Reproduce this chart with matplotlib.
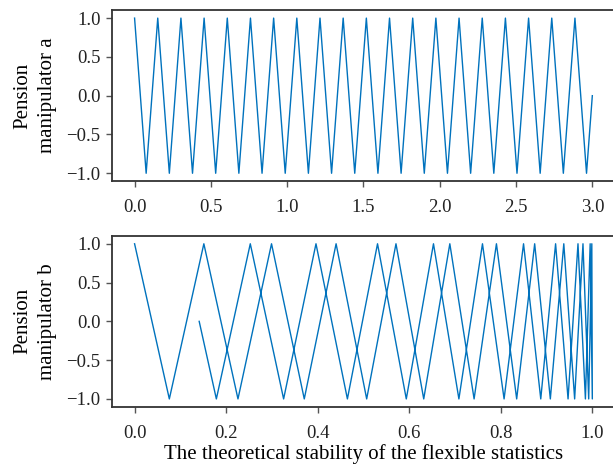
import matplotlib
matplotlib.use("Agg")
import matplotlib.pyplot as plt

# sample positions of the top panel
x_top = [0.0, 0.0759, 0.1519, 0.2278, 0.3038, 0.3797, 0.4557, 0.5316, 0.6076, 0.6835,
         0.7595, 0.8354, 0.9114, 0.9873, 1.0633, 1.1392, 1.2152, 1.2911, 1.3671, 1.4430,
         1.5190, 1.5949, 1.6709, 1.7468, 1.8228, 1.8987, 1.9747, 2.0506, 2.1266, 2.2025,
         2.2785, 2.3544, 2.4304, 2.5063, 2.5823, 2.6582, 2.7342, 2.8101, 2.8861, 2.9620,
         3.0]

# same samples on the bottom panel's axis
x_bottom = [0.0, 0.0759, 0.1513, 0.2258, 0.2991, 0.3706, 0.4401, 0.5069, 0.5709, 0.6315,
            0.6885, 0.7415, 0.7903, 0.8345, 0.8738, 0.9080, 0.9374, 0.9611, 0.9793, 0.9918,
            0.9986, 0.9997, 0.9950, 0.9846, 0.9684, 0.9467, 0.9195, 0.8871, 0.8495, 0.8070,
            0.7598, 0.7083, 0.6528, 0.5934, 0.5306, 0.4648, 0.3962, 0.3255, 0.2527, 0.1786,
            0.1411]

y_vals = [1, -1, 1, -1, 1, -1, 1, -1, 1, -1,
          1, -1, 1, -1, 1, -1, 1, -1, 1, -1,
          1, -1, 1, -1, 1, -1, 1, -1, 1, -1,
          1, -1, 1, -1, 1, -1, 1, -1, 1, -1,
          0]

plt.rcParams['font.family'] = ['Liberation Serif', 'DejaVu Serif']
plt.rcParams['font.size'] = 12

color = '#0072BD'

fig = plt.figure(figsize=(6.13, 4.68), dpi=100)
ax0 = fig.add_axes([0.1822, 0.6132, 0.8214, 0.3647])
ax1 = fig.add_axes([0.1822, 0.131, 0.8214, 0.3647])

ax0.plot(x_top, y_vals, color=color, linewidth=1.0)
ax1.plot(x_bottom, y_vals, color=color, linewidth=1.0)

ax0.set_ylabel('Pension\nmanipulator a', fontsize=15, labelpad=7, linespacing=1.35)
ax1.set_ylabel('Pension\nmanipulator b', fontsize=15, labelpad=7, linespacing=1.35)
ax1.set_xlabel('The theoretical stability of the flexible statistics', fontsize=15, labelpad=2)

ax0.set_yticks([-1.0, -0.5, 0.0, 0.5, 1.0])
ax1.set_yticks([-1.0, -0.5, 0.0, 0.5, 1.0])
ax0.set_xticks([0.0, 0.5, 1.0, 1.5, 2.0, 2.5, 3.0])
ax1.set_xticks([0.0, 0.2, 0.4, 0.6, 0.8, 1.0])

for ax in (ax0, ax1):
    for s in ax.spines.values():
        s.set_color('#333333')
        s.set_linewidth(1.3)
    ax.tick_params(direction='out', length=4, width=1.0, color='#555555',
                   labelsize=13.5, labelcolor='#222222')
    ax.tick_params(axis='x', pad=9)
    ax.tick_params(axis='y', pad=4)

fig.savefig('out.png', dpi=100)
